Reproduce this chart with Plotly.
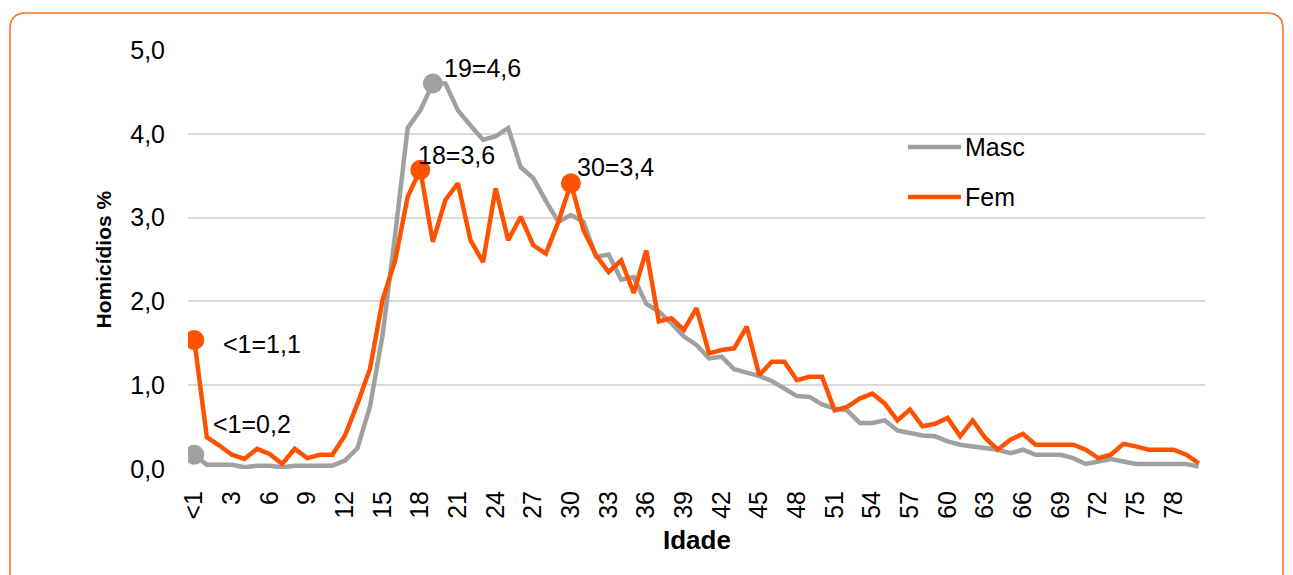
import plotly.graph_objects as go

# ---------------- data ----------------
ages = ["<1"] + [str(i) for i in range(1, 81)]
tick_ages = ["<1"] + [str(i) for i in range(3, 79, 3)]
tick_text = ["&lt;1"] + [str(i) for i in range(3, 79, 3)]

masc = [0.17, 0.05, 0.05, 0.05, 0.02, 0.04, 0.04, 0.02, 0.04, 0.04,
        0.04, 0.04, 0.10, 0.25, 0.75, 1.60, 2.80, 4.07, 4.28, 4.60,
        4.60, 4.28, 4.10, 3.93, 3.97, 4.07, 3.60, 3.47, 3.20, 2.95,
        3.03, 2.95, 2.53, 2.56, 2.26, 2.29, 1.97, 1.88, 1.74, 1.58,
        1.48, 1.32, 1.34, 1.19, 1.15, 1.11, 1.05, 0.96, 0.87, 0.86,
        0.77, 0.72, 0.70, 0.55, 0.55, 0.58, 0.46, 0.43, 0.40, 0.39,
        0.33, 0.29, 0.27, 0.24, 0.23, 0.19, 0.23, 0.17, 0.17, 0.17,
        0.13, 0.06, 0.09, 0.12, 0.09, 0.06, 0.06, 0.06, 0.06, 0.06,
        0.03]

fem = [1.54, 0.38, 0.28, 0.17, 0.12, 0.24, 0.18, 0.06, 0.24, 0.13,
       0.17, 0.17, 0.40, 0.78, 1.20, 2.02, 2.49, 3.25, 3.57, 2.71,
       3.21, 3.41, 2.73, 2.47, 3.35, 2.73, 3.01, 2.67, 2.57, 2.95,
       3.41, 2.85, 2.55, 2.35, 2.49, 2.10, 2.61, 1.76, 1.80, 1.66,
       1.92, 1.38, 1.42, 1.44, 1.70, 1.12, 1.28, 1.28, 1.06, 1.10,
       1.10, 0.70, 0.74, 0.84, 0.90, 0.78, 0.58, 0.71, 0.51, 0.54,
       0.61, 0.39, 0.58, 0.37, 0.23, 0.35, 0.42, 0.29, 0.29, 0.29,
       0.29, 0.23, 0.13, 0.17, 0.30, 0.27, 0.23, 0.23, 0.23, 0.17,
       0.07]

# highlighted points: (index, label text)
masc_marks = [(0, "&lt;1=0,2"), (19, "19=4,6")]
fem_marks = [(0, "&lt;1=1,1"), (18, "18=3,6"), (30, "30=3,4")]

# ---------------- style ----------------
OFF = 8  # page body margin
W, H = 1293 - OFF, 575 - OFF
L, T = 188 - OFF, 50 - OFF
R = W - (1205 - OFF)
B = H - (469 - OFF)
GRAY = "#A0A0A0"
ORANGE = "#FF5200"
FONT = "Liberation Sans, Arial, sans-serif"


def px(x):  # x in reference-picture pixels -> paper
    return (x - OFF - L) / (W - L - R)


def py(y):  # y in reference-picture pixels -> paper
    return 1 - (y - OFF - T) / (H - T - B)


fig = go.Figure()
fig.add_trace(go.Scatter(x=ages, y=masc, mode="lines", name="Masc",
                         line=dict(color=GRAY, width=4.5)))
fig.add_trace(go.Scatter(x=ages, y=fem, mode="lines", name="Fem",
                         line=dict(color=ORANGE, width=4.5)))
fig.add_trace(go.Scatter(x=[ages[i] for i, _ in masc_marks],
                         y=[masc[i] for i, _ in masc_marks],
                         mode="markers", marker=dict(color=GRAY, size=20),
                         showlegend=False, hoverinfo="skip"))
fig.add_trace(go.Scatter(x=[ages[i] for i, _ in fem_marks],
                         y=[fem[i] for i, _ in fem_marks],
                         mode="markers", marker=dict(color=ORANGE, size=20),
                         showlegend=False, hoverinfo="skip"))

annotations = []
label_offsets = {
    ("m", 0): (17, 31),
    ("m", 19): (9, 16),
    ("f", 0): (27, -4),
    ("f", 18): (-4, 15),
    ("f", 30): (4, 16),
}
for key, marks, vals in (("m", masc_marks, masc), ("f", fem_marks, fem)):
    for i, txt in marks:
        xs, ys = label_offsets[(key, i)]
        annotations.append(dict(x=ages[i], y=vals[i], xref="x", yref="y", text=txt,
                                showarrow=False, xanchor="left", yanchor="middle",
                                xshift=xs, yshift=ys,
                                font=dict(family=FONT, size=25, color="#000000")))

# axis titles
annotations.append(dict(x=px(103), y=0.5, xref="paper", yref="paper",
                        text="<b>Homicídios %</b>", textangle=-90, showarrow=False,
                        xanchor="center", yanchor="middle",
                        font=dict(family=FONT, size=21, color="#000000")))
annotations.append(dict(x=0.5, y=py(540), xref="paper", yref="paper",
                        text="<b>Idade</b>", showarrow=False,
                        xanchor="center", yanchor="middle",
                        font=dict(family=FONT, size=26, color="#000000")))

# manual legend
shapes = []
for name, color, ypix in [("Masc", GRAY, 147), ("Fem", ORANGE, 197)]:
    shapes.append(dict(type="line", xref="paper", yref="paper",
                       x0=px(908), x1=px(961), y0=py(ypix), y1=py(ypix),
                       line=dict(color=color, width=4.5)))
    annotations.append(dict(x=px(963), y=py(ypix), xref="paper", yref="paper",
                            text=name, showarrow=False, xanchor="left",
                            yanchor="middle",
                            font=dict(family=FONT, size=25, color="#000000")))

# rounded orange frame
x0, x1, y0, y1, r = 10, 1283, 13, 600, 16
path = (f"M {px(x0)},{py(y0 + r)} "
        f"Q {px(x0)},{py(y0)} {px(x0 + r)},{py(y0)} "
        f"L {px(x1 - r)},{py(y0)} "
        f"Q {px(x1)},{py(y0)} {px(x1)},{py(y0 + r)} "
        f"L {px(x1)},{py(y1)} L {px(x0)},{py(y1)} Z")
shapes.append(dict(type="path", xref="paper", yref="paper", path=path,
                   line=dict(color="#FF6A1F", width=1.5), layer="below"))

fig.update_layout(
    width=W, height=H,
    margin=dict(l=L, r=R, t=T, b=B, autoexpand=False),
    paper_bgcolor="white", plot_bgcolor="white",
    separators=",.",
    showlegend=False,
    font=dict(family=FONT, size=25, color="#000000"),
    annotations=annotations,
    shapes=shapes,
    xaxis=dict(type="category", categoryorder="array", categoryarray=ages,
               range=[-0.5, len(ages) - 0.5], autorange=False,
               tickmode="array", tickvals=tick_ages, ticktext=tick_text,
               tickangle=-90, showgrid=False, showline=False, zeroline=False,
               ticks="", ticklabelstandoff=16,
               tickfont=dict(family=FONT, size=25, color="#000000")),
    yaxis=dict(range=[0, 5], autorange=False, tickvals=[0, 1, 2, 3, 4, 5],
               tickformat=".1f",
               showgrid=True, gridcolor="#D9D9D9", gridwidth=2,
               zeroline=False, showline=False, ticks="", ticklabelstandoff=22,
               tickfont=dict(family=FONT, size=25, color="#000000")),
)

fig.write_html("out.html")
